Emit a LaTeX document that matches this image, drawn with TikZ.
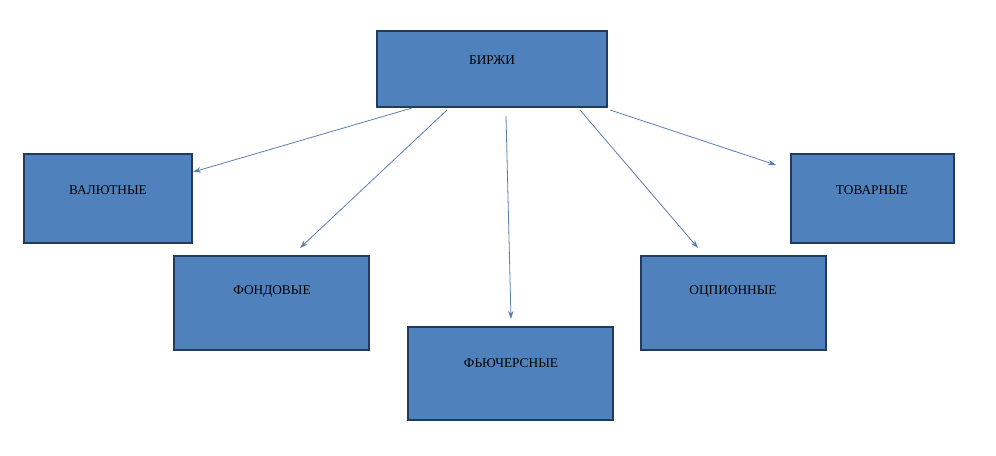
\documentclass[tikz,border=0pt]{standalone}
\usepackage{fontspec}
\setmainfont{Liberation Serif}
\usetikzlibrary{arrows.meta}
\definecolor{boxfill}{HTML}{4F81BD}
\definecolor{boxline}{HTML}{203A60}
\definecolor{arr}{HTML}{5A7FAE}
\begin{document}
\begin{tikzpicture}[x=0.75pt,y=-0.75pt,
  box/.style={draw=boxline,line width=1.6pt,fill=boxfill,font=\fontsize{13}{15}\selectfont},
  conn/.style={draw=arr,line width=0.6pt,-{Stealth[length=6pt,width=4pt]}}]
\path[use as bounding box,fill=white] (0,0) rectangle (996,456);
\path[box] (377,31) rectangle (607,107); \node (b) at (492,60) {БИРЖИ};
\path[box] (24,154) rectangle (192,243); \node (v) at (108,190) {ВАЛЮТНЫЕ};
\path[box] (174,256) rectangle (369,350); \node (f) at (272,292) {ФОНДОВЫЕ};
\path[box] (408,327) rectangle (613,420); \node (fu) at (511,363) {ФЬЮЧЕРСНЫЕ};
\path[box] (641,256) rectangle (826,350); \node (o) at (733,292) {ОЦПИОННЫЕ};
\path[box] (791,154) rectangle (954,243); \node (t) at (872,190) {ТОВАРНЫЕ};
\coordinate (s1) at (412,108); \coordinate (e1) at (193,172);
\coordinate (s2) at (447,110); \coordinate (e2) at (300,248);
\coordinate (s3) at (506,116); \coordinate (e3) at (511,319);
\coordinate (s4) at (580,110); \coordinate (e4) at (698,248);
\coordinate (s5) at (610,110); \coordinate (e5) at (776,165);
\draw[conn] (s1) -- (e1);
\draw[conn] (s2) -- (e2);
\draw[conn] (s3) -- (e3);
\draw[conn] (s4) -- (e4);
\draw[conn] (s5) -- (e5);
\end{tikzpicture}
\end{document}
